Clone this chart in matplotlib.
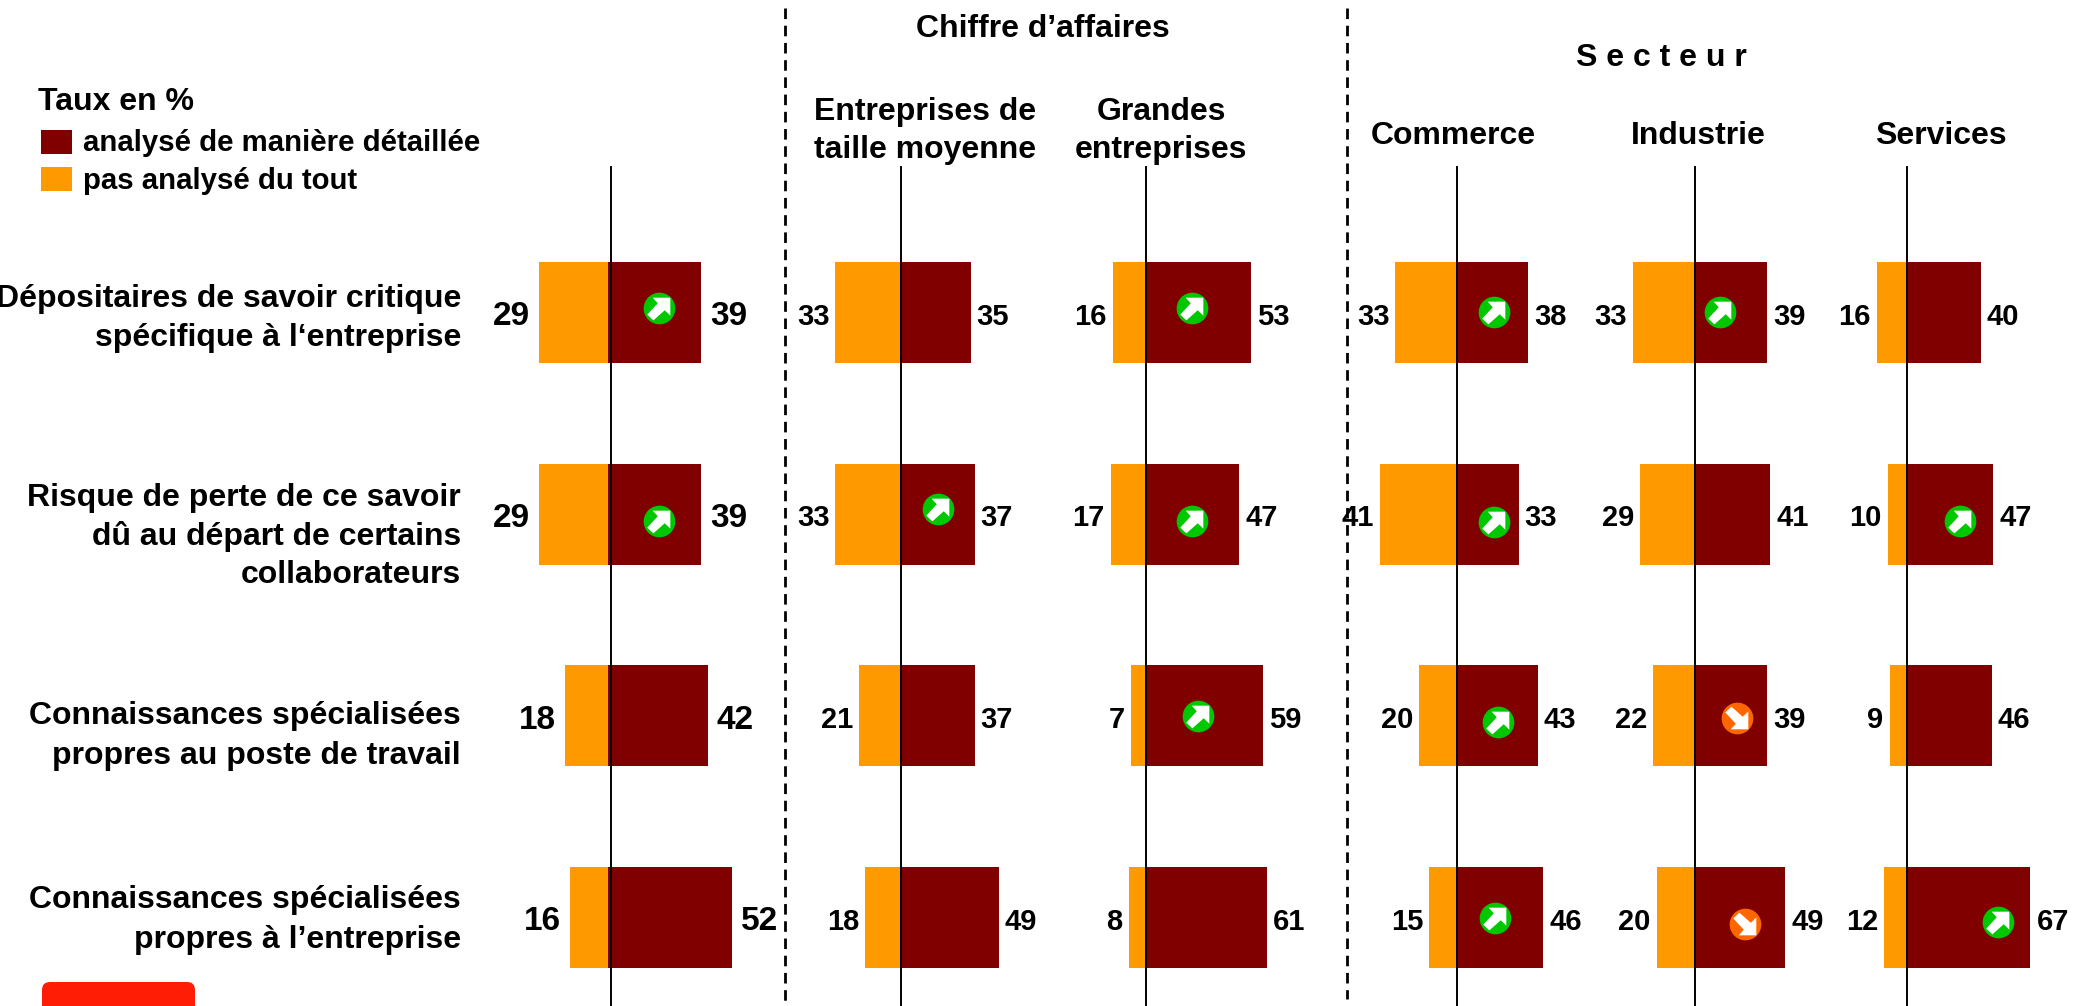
import matplotlib
matplotlib.use("Agg")
import matplotlib.pyplot as plt
from matplotlib.patches import FancyBboxPatch, Rectangle
from matplotlib.path import Path

W, H = 2075, 1006
DARK = "#800000"
ORANGE = "#FF9900"
GREEN = "#00C800"
ROUGE = "#FF6600"

plt.rcParams["font.family"] = ["Liberation Sans", "DejaVu Sans"]

rows = [0, 1, 2, 3]

# taux par colonne, du haut vers le bas
total_detail = [39, 39, 42, 52]
total_rien = [29, 29, 18, 16]
moyenne_detail = [35, 37, 37, 49]
moyenne_rien = [33, 33, 21, 18]
grandes_detail = [53, 47, 59, 61]
grandes_rien = [16, 17, 7, 8]
commerce_detail = [38, 33, 43, 46]
commerce_rien = [33, 41, 20, 15]
industrie_detail = [39, 41, 39, 49]
industrie_rien = [33, 29, 22, 20]
services_detail = [40, 47, 46, 67]
services_rien = [16, 10, 9, 12]

# fleches de tendance : (ligne, position en x, decalage vertical, sens)
total_fleches = [(0, 21.5, -0.02, "up"), (1, 21.5, 0.035, "up")]
moyenne_fleches = [(1, 18.5, -0.025, "up")]
grandes_fleches = [(0, 23.5, -0.02, "up"), (1, 23.5, 0.035, "up"), (2, 26.5, 0.0, "up")]
commerce_fleches = [(0, 19.7, 0.0, "up"), (1, 19.5, 0.04, "up"), (2, 22, 0.03, "up"), (3, 20, 0.0, "up")]
industrie_fleches = [(0, 13.9, 0.0, "up"), (2, 23.1, 0.01, "down"), (3, 27.4, 0.03, "down")]
services_fleches = [(1, 28.9, 0.035, "up"), (3, 49.3, 0.02, "up")]

# colonne : detail, rien, fleches, x de l'axe (px), px par point, taille, ecart du chiffre, decalage du trait
panels = [
    (total_detail, total_rien, total_fleches, 608, 2.38, 24, 6.5, 3),
    (moyenne_detail, moyenne_rien, moyenne_fleches, 901, 2.0, 21, 4, 0),
    (grandes_detail, grandes_rien, grandes_fleches, 1145, 2.0, 21, 4.5, 1),
    (commerce_detail, commerce_rien, commerce_fleches, 1457, 1.88, 21, 4, 0),
    (industrie_detail, industrie_rien, industrie_fleches, 1694, 1.86, 21, 4.5, 1),
    (services_detail, services_rien, services_fleches, 1906.5, 1.85, 21, 4.5, 0.5),
]

row_labels = [
    (["Dépositaires de savoir critique", "spécifique à l‘entreprise"], [299, 338]),
    (["Risque de perte de ce savoir", "dû au départ de certains", "collaborateurs"], [498, 537, 575]),
    (["Connaissances spécialisées", "propres au poste de travail"], [716, 756]),
    (["Connaissances spécialisées", "propres à l’entreprise"], [900, 940]),
]

headers = [
    ("Chiffre d’affaires", 1043, 29),
    ("S e c t e u r", 1661, 58),
    ("Entreprises de", 925, 112),
    ("taille moyenne", 925, 150),
    ("Grandes", 1162, 112),
    ("entreprises", 1161, 150),
    ("Commerce", 1453, 136),
    ("Industrie", 1698, 136),
    ("Services", 1941, 136),
]

# une ligne = 201.7 px, premiere ligne centree a y=312.5
ROW_STEP = 201.7
ROW_TOP = 312.5
BAR_H = 0.5


def arrow_path(sens):
    verts = [(0.62, 0.62), (0.62, -0.41), (0.3, -0.1), (-0.35, -0.68), (-0.7, -0.35),
             (-0.1, 0.3), (-0.39, 0.62), (0.62, 0.62)]
    if sens == "down":
        verts = [(x, -y) for x, y in verts]
    return Path(verts, closed=True)


def draw_panel(fig, detail, rien, fleches, x0, scale, size, gap, line_dx):
    ax = fig.add_axes([0, 0, 1, 1])
    ax.set_xlim(-x0 / scale, (W - x0) / scale)
    ax.set_ylim((H - ROW_TOP) / ROW_STEP, -ROW_TOP / ROW_STEP)
    ax.axis("off")

    ax.barh(rows, rien, left=[-v for v in rien], height=BAR_H, color=ORANGE, zorder=2)
    ax.barh(rows, detail, height=BAR_H, color=DARK, zorder=2)
    ax.axvline(line_dx / scale, ymin=0, ymax=1 - 167 / H, color="black", lw=1.4, zorder=3)

    for r, d, n in zip(rows, detail, rien):
        ax.annotate(str(n), (-n, r), xytext=(-gap, -3), textcoords="offset points", ha="right", va="center",
                    fontsize=size, fontweight="bold")
        ax.annotate(str(d), (d, r), xytext=(gap, -3), textcoords="offset points", ha="left", va="center",
                    fontsize=size, fontweight="bold")

    for r, x, dy, sens in fleches:
        c = GREEN if sens == "up" else ROUGE
        ax.scatter([x], [r + dy], s=520, color=c, linewidths=0, zorder=4)
        ax.scatter([x], [r + dy], s=310, marker=arrow_path(sens), color="white", linewidths=0, zorder=5)


fig = plt.figure(figsize=(W / 100, H / 100), dpi=100, facecolor="white")

for p in panels:
    draw_panel(fig, *p)

# calque en pixels pour les titres, la legende et les separateurs
top = fig.add_axes([0, 0, 1, 1])
top.set_xlim(0, W)
top.set_ylim(H, 0)
top.axis("off")

top.plot([785, 785], [8, H], color="black", lw=2.0, dashes=(3.8, 2.4))
top.plot([1347, 1347], [8, 999], color="black", lw=2.0, dashes=(3.8, 2.4))

for text, x, y in headers:
    top.text(x, y, text, ha="center", va="center", fontsize=23, fontweight="bold")

for lines, ys in row_labels:
    for text, y in zip(lines, ys):
        top.text(461, y, text, ha="right", va="center", fontsize=23, fontweight="bold")

top.text(38, 102, "Taux en %", ha="left", va="center", fontsize=23, fontweight="bold")
top.add_patch(Rectangle((41, 130), 31, 24, color=DARK, lw=0))
top.add_patch(Rectangle((41, 167), 31, 24, color=ORANGE, lw=0))
top.text(83, 143, "analysé de manière détaillée", ha="left", va="center", fontsize=21.2, fontweight="bold")
top.text(83, 181, "pas analysé du tout", ha="left", va="center", fontsize=21.2, fontweight="bold")

top.add_patch(FancyBboxPatch((42, 982), 153, 50, boxstyle="round,pad=0,rounding_size=8", mutation_scale=1,
                             facecolor="#FF1E05", edgecolor="none", clip_on=True))

fig.savefig("out.png", dpi=100)
